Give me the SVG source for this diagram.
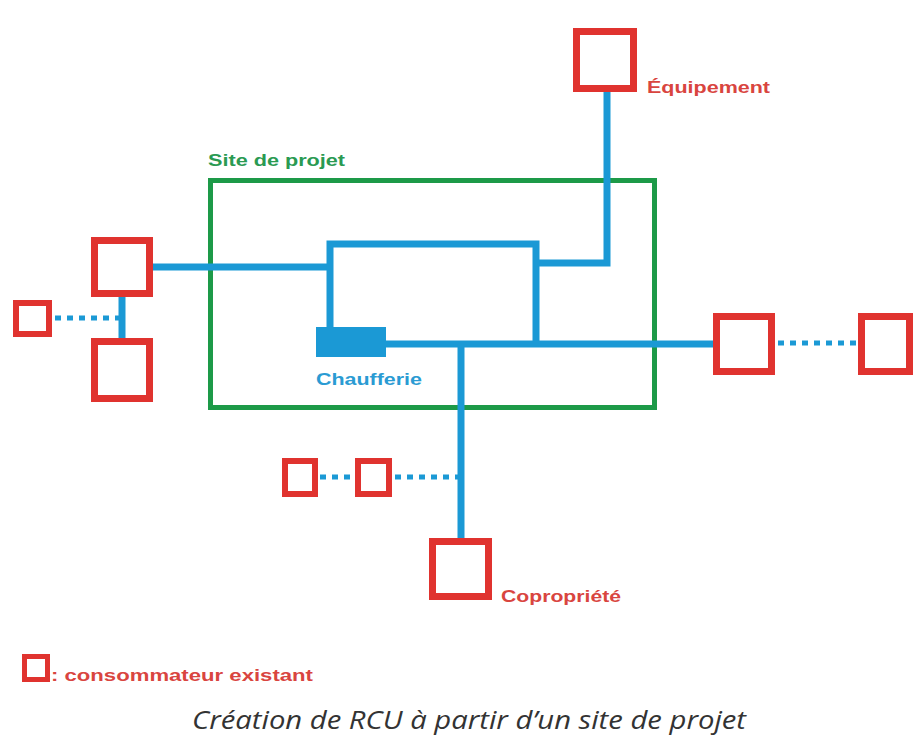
<svg xmlns="http://www.w3.org/2000/svg" width="914" height="742" viewBox="0 0 914 742">
<style>
.box{fill:#fff;stroke:#e0332f;stroke-width:7}
.sbox{fill:#fff;stroke:#e0332f;stroke-width:6}
.pipe{fill:none;stroke:#1b99d5;stroke-width:7}
.dot{fill:none;stroke:#1b99d5;stroke-width:5;stroke-dasharray:6 6}
.lbl{font-family:"Liberation Sans",Arial,sans-serif;font-weight:bold;font-size:17px}
.red{fill:#d9453f}
</style>
<rect width="914" height="742" fill="#fff"/>
<g id="site">
<rect x="210.5" y="180.5" width="444" height="227" fill="none" stroke="#1d9a48" stroke-width="5"/>
<text class="lbl" x="208" y="166" fill="#2a9a52" textLength="137" lengthAdjust="spacingAndGlyphs">Site de projet</text>
</g>
<g id="connectors">
<polyline class="pipe" points="153,267 330,267"/>
<polyline class="pipe" points="330,330 330,244 536,244 536,344"/>
<polyline class="pipe" points="536,263 607,263 607,92"/>
<polyline class="pipe" points="386,344 713,344"/>
<polyline class="pipe" points="461,344 461,538"/>
<polyline class="pipe" points="122,297 122,338"/>
<line class="dot" x1="55" y1="318" x2="122" y2="318"/>
<line class="dot" x1="778" y1="343" x2="858" y2="343"/>
<line class="dot" x1="320" y1="477" x2="355" y2="477"/>
<line class="dot" x1="395" y1="477" x2="461" y2="477"/>
</g>
<g id="chaufferie">
<rect x="316" y="327" width="70" height="30" fill="#1b99d5"/>
<text class="lbl" x="316" y="385" fill="#2a9bd3" textLength="106" lengthAdjust="spacingAndGlyphs">Chaufferie</text>
</g>
<g id="equipement">
<rect class="box" x="576.5" y="31.5" width="57" height="57"/>
<text class="lbl red" x="647" y="93" textLength="123" lengthAdjust="spacingAndGlyphs">Équipement</text>
</g>
<g id="left-top"><rect class="box" x="94.5" y="240.5" width="55" height="53"/></g>
<g id="left-bottom"><rect class="box" x="94.5" y="341.5" width="55" height="57"/></g>
<g id="left-small"><rect class="sbox" x="16" y="303" width="33" height="31"/></g>
<g id="right"><rect class="box" x="716.5" y="316.5" width="55" height="55"/></g>
<g id="far-right"><rect class="box" x="861.5" y="316.5" width="48" height="55"/></g>
<g id="bottom-small-1"><rect class="sbox" x="285" y="461" width="30" height="33"/></g>
<g id="bottom-small-2"><rect class="sbox" x="358" y="461" width="31" height="33"/></g>
<g id="copropriete">
<rect class="box" x="432.5" y="541.5" width="56" height="55"/>
<text class="lbl red" x="501" y="602" textLength="120" lengthAdjust="spacingAndGlyphs">Copropriété</text>
</g>
<g id="legend">
<rect x="24.5" y="656.5" width="23" height="23" fill="#fff" stroke="#e0332f" stroke-width="5"/>
<text class="lbl red" x="51" y="681" textLength="262" lengthAdjust="spacingAndGlyphs">: consommateur existant</text>
</g>
<text x="192" y="729" font-family="'Open Sans',sans-serif" font-style="italic" font-size="25" fill="#333" textLength="554" lengthAdjust="spacingAndGlyphs">Création de RCU à partir d’un site de projet</text>
</svg>
